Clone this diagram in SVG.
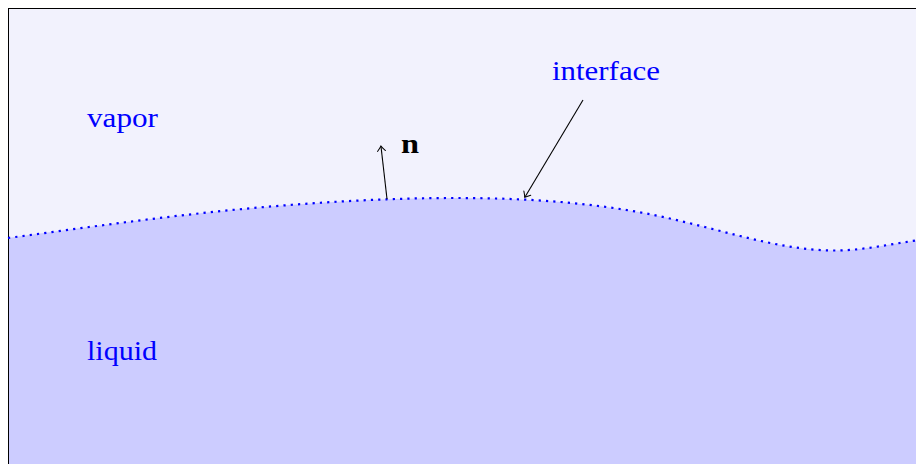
<svg xmlns="http://www.w3.org/2000/svg" width="916" height="464" viewBox="0 0 916 464">
<defs>
<style>
.lbl{font-family:"Liberation Serif","DejaVu Serif",serif;font-size:28px;fill:#0000ff}
.bold{font-family:"Liberation Serif","DejaVu Serif",serif;font-size:28px;font-weight:bold;fill:#000}
.arr{fill:none;stroke:#000;stroke-width:1.1}
.iface{fill:none;stroke:#0000ff;stroke-width:2.2;stroke-dasharray:2.2 5.1}
</style>
<marker id="to" viewBox="-6 -5 8 10" markerWidth="8" markerHeight="10" refX="0" refY="0" orient="auto" markerUnits="userSpaceOnUse">
<path d="M-4.5,-4 Q-1,-0.8 0.5,0 Q-1,0.8 -4.5,4" fill="none" stroke="#000" stroke-width="1" stroke-linecap="round"/>
</marker>
</defs>
<g id="vapor">
<rect x="8.5" y="8.5" width="1000" height="1000" fill="#f2f2fd"/>
</g>
<g id="liquid">
<path d="M8,238 C88.7,227.1 169.3,215.6 250,208.3 C318.3,202.15 386.7,198 455,198 C516.7,198 578.3,201.2 640,212.3 C673.3,218.3 706.7,227.7 740,236 C771.7,243.9 803.3,250.5 835,250.5 C862,250.5 889,244.3 916,240.5 L916,464 L8,464 Z" fill="#ccccff"/>
</g>
<g id="frame">
<rect x="8.5" y="8.5" width="1000" height="1000" fill="none" stroke="#000" stroke-width="1"/>
</g>
<g id="interface-line">
<path class="iface" d="M8,238 C88.7,227.1 169.3,215.6 250,208.3 C318.3,202.15 386.7,198 455,198 C516.7,198 578.3,201.2 640,212.3 C673.3,218.3 706.7,227.7 740,236 C771.7,243.9 803.3,250.5 835,250.5 C862,250.5 889,244.3 916,240.5"/>
</g>
<g id="labels">
<text class="lbl" x="87" y="127" textLength="71" lengthAdjust="spacingAndGlyphs">vapor</text>
<text class="lbl" x="87" y="360" textLength="70" lengthAdjust="spacingAndGlyphs">liquid</text>
<text class="lbl" x="552" y="80" textLength="108" lengthAdjust="spacingAndGlyphs">interface</text>
<text class="bold" x="401" y="153" textLength="18" lengthAdjust="spacingAndGlyphs">n</text>
</g>
<g id="connectors">
<line class="arr" x1="387" y1="199" x2="381" y2="146.5" marker-end="url(#to)"/>
<line class="arr" x1="583" y1="100" x2="525" y2="197" marker-end="url(#to)"/>
</g>
</svg>
